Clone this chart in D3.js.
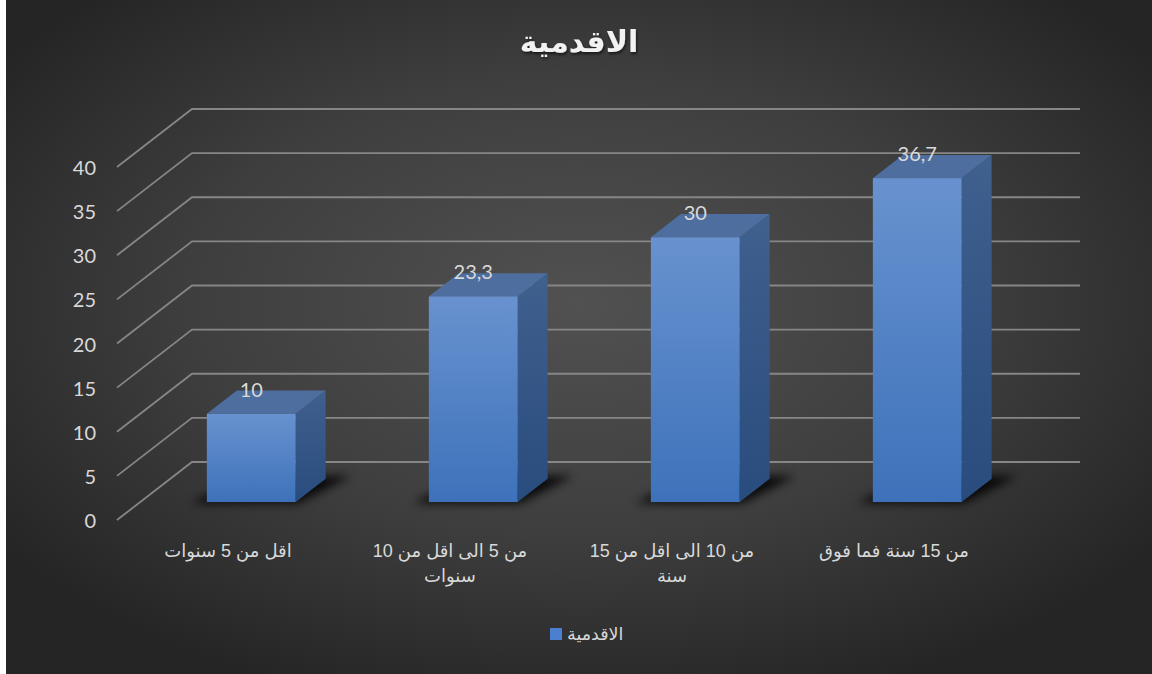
<!DOCTYPE html>
<html><head><meta charset="utf-8">
<script src="https://cdn.jsdelivr.net/npm/d3@7"></script>
<style>html,body{margin:0;padding:0;background:#fff;} svg{display:block;}</style>
</head><body><svg id="c" width="1152" height="674"></svg>
<script>
// ---- data ----
const categories = ["اقل من 5 سنوات", "من 5 الى اقل من 10 سنوات", "من 10 الى اقل من 15 سنة", "من 15 سنة فما فوق"];
const categoryLines = [["اقل من 5 سنوات"], ["من 5 الى اقل من 10", "سنوات"], ["من 10 الى اقل من 15", "سنة"], ["من 15 سنة فما فوق"]];
const values = [10, 23.3, 30, 36.7];
const yTicks = [0, 5, 10, 15, 20, 25, 30, 35, 40];
const seriesName = "الاقدمية";
const chartTitle = "الاقدمية";

// ---- layout ----
const W = 1152, H = 674;
const svg = d3.select("#c");
const defs = svg.append("defs");

const bg = defs.append("radialGradient").attr("id", "bg").attr("cx", "0.5").attr("cy", "0.45").attr("r", "0.62");
bg.append("stop").attr("offset", "0").attr("stop-color", "#515151");
bg.append("stop").attr("offset", "0.55").attr("stop-color", "#3e3e3e");
bg.append("stop").attr("offset", "1").attr("stop-color", "#252525");

const gf = defs.append("linearGradient").attr("id", "front").attr("x1", 0).attr("y1", 0).attr("x2", 0).attr("y2", 1);
gf.append("stop").attr("offset", "0").attr("stop-color", "#6892cf");
gf.append("stop").attr("offset", "1").attr("stop-color", "#3d72ba");
const gs = defs.append("linearGradient").attr("id", "side").attr("x1", 0).attr("y1", 0).attr("x2", 0).attr("y2", 1);
gs.append("stop").attr("offset", "0").attr("stop-color", "#40608e");
gs.append("stop").attr("offset", "1").attr("stop-color", "#294c7e");
const blur = defs.append("filter").attr("id", "blur").attr("x", "-50%").attr("y", "-50%").attr("width", "200%").attr("height", "200%");
blur.append("feGaussianBlur").attr("stdDeviation", 5);
const tshadow = defs.append("filter").attr("id", "tsh").attr("x", "-20%").attr("y", "-40%").attr("width", "140%").attr("height", "180%");
tshadow.append("feDropShadow").attr("dx", 1).attr("dy", 2).attr("stdDeviation", 1.5).attr("flood-color", "#000").attr("flood-opacity", 0.6);

svg.append("rect").attr("width", W).attr("height", H).attr("fill", "#ffffff");
svg.append("rect").attr("x", 6).attr("width", W - 6).attr("height", H).attr("fill", "url(#bg)");

const x = d3.scaleBand().domain(categories).range([192, 1080]).padding(0);
const y = d3.scaleLinear().domain([0, 40]).range([462, 109]);
const DX = -75, DY = 58;           // depth vector, back wall (z=0) -> front (z=1)
const zFront = 0.69, zBack = 0.29;
const P = (xb, v, z) => [xb + DX * z, y(v) + DY * z];
const barW = x.bandwidth() * 0.4;
const gridColor = "#868686";

// gridlines: back wall + left wall
const grid = svg.append("g");
yTicks.forEach(t => {
  const a = P(192, t, 1), b = P(192, t, 0), c = P(1080, t, 0);
  grid.append("path").attr("d", d3.line()([a, b, c]))
    .attr("fill", "none").attr("stroke", gridColor).attr("stroke-width", 1.8);
});

// tick labels
svg.append("g").selectAll("text").data(yTicks).join("text")
  .attr("x", 96).attr("y", d => P(192, d, 1)[1])
  .attr("text-anchor", "end").attr("dominant-baseline", "central")
  .attr("font-family", "Lato, 'Open Sans', sans-serif").attr("font-size", 20)
  .attr("fill", "#d9d9d9").text(d => d);

// bars
const bars = svg.append("g");
categories.forEach((c, i) => {
  const v = values[i];
  const cx = x(c) + x.bandwidth() / 2;
  const x0 = cx - barW / 2, x1 = cx + barW / 2;
  // shadow
  const sh = [P(x0 - 14, 0, zFront + 0.02), P(x1 + 4, 0, zFront + 0.02), P(x1 + 22, 0, zBack - 0.05), P(x0 + 4, 0, zBack - 0.05)];
  bars.append("path").attr("d", d3.line()(sh) + "Z").attr("fill", "#000").attr("opacity", 0.85).attr("filter", "url(#blur)");
  // side
  const side = [P(x1, 0, zFront), P(x1, 0, zBack), P(x1, v, zBack), P(x1, v, zFront)];
  bars.append("path").attr("d", d3.line()(side) + "Z").attr("fill", "url(#side)");
  // top
  const top = [P(x0, v, zFront), P(x1, v, zFront), P(x1, v, zBack), P(x0, v, zBack)];
  bars.append("path").attr("d", d3.line()(top) + "Z").attr("fill", "#4d6e9e");
  // front
  const f0 = P(x0, v, zFront), f1 = P(x1, 0, zFront);
  bars.append("rect").attr("x", f0[0]).attr("y", f0[1]).attr("width", f1[0] - f0[0]).attr("height", f1[1] - f0[1]).attr("fill", "url(#front)");
  // data label
  const lp = P(cx, v, zFront);
  const tb = P(cx, v, zBack);
  bars.append("text").attr("x", lp[0]).attr("y", tb[1] - 2)
    .attr("text-anchor", "middle").attr("dominant-baseline", "central")
    .attr("font-family", "Lato, 'Open Sans', sans-serif").attr("font-size", 20)
    .attr("fill", "#d9d9d9").text(String(v).replace(".", ","));
});

// category labels
const cl = svg.append("g");
categories.forEach((c, i) => {
  const px = x(c) + x.bandwidth() / 2 + DX;
  const t = cl.append("text").attr("direction", "rtl").attr("text-anchor", "middle")
    .attr("font-family", "'Liberation Sans', 'DejaVu Sans', sans-serif").attr("font-size", 18)
    .attr("fill", "#d9d9d9");
  categoryLines[i].forEach((ln, k) => {
    t.append("tspan").attr("x", px).attr("y", 557 + k * 25).text(ln);
  });
});

// title
svg.append("text").attr("x", 579).attr("y", 52).attr("text-anchor", "middle")
  .attr("font-family", "'DejaVu Sans', sans-serif").attr("font-weight", "bold").attr("font-size", 30)
  .attr("fill", "#f2f2f2").attr("filter", "url(#tsh)").text(chartTitle);

// legend
const lg = svg.append("g");
lg.append("rect").attr("x", 550).attr("y", 628).attr("width", 12).attr("height", 12).attr("fill", "#4a80cf");
lg.append("text").attr("x", 567).attr("y", 634).attr("dominant-baseline", "central")
  .attr("font-family", "'DejaVu Sans', sans-serif").attr("font-size", 17.5).attr("fill", "#d9d9d9").text(seriesName);
</script></body></html>
